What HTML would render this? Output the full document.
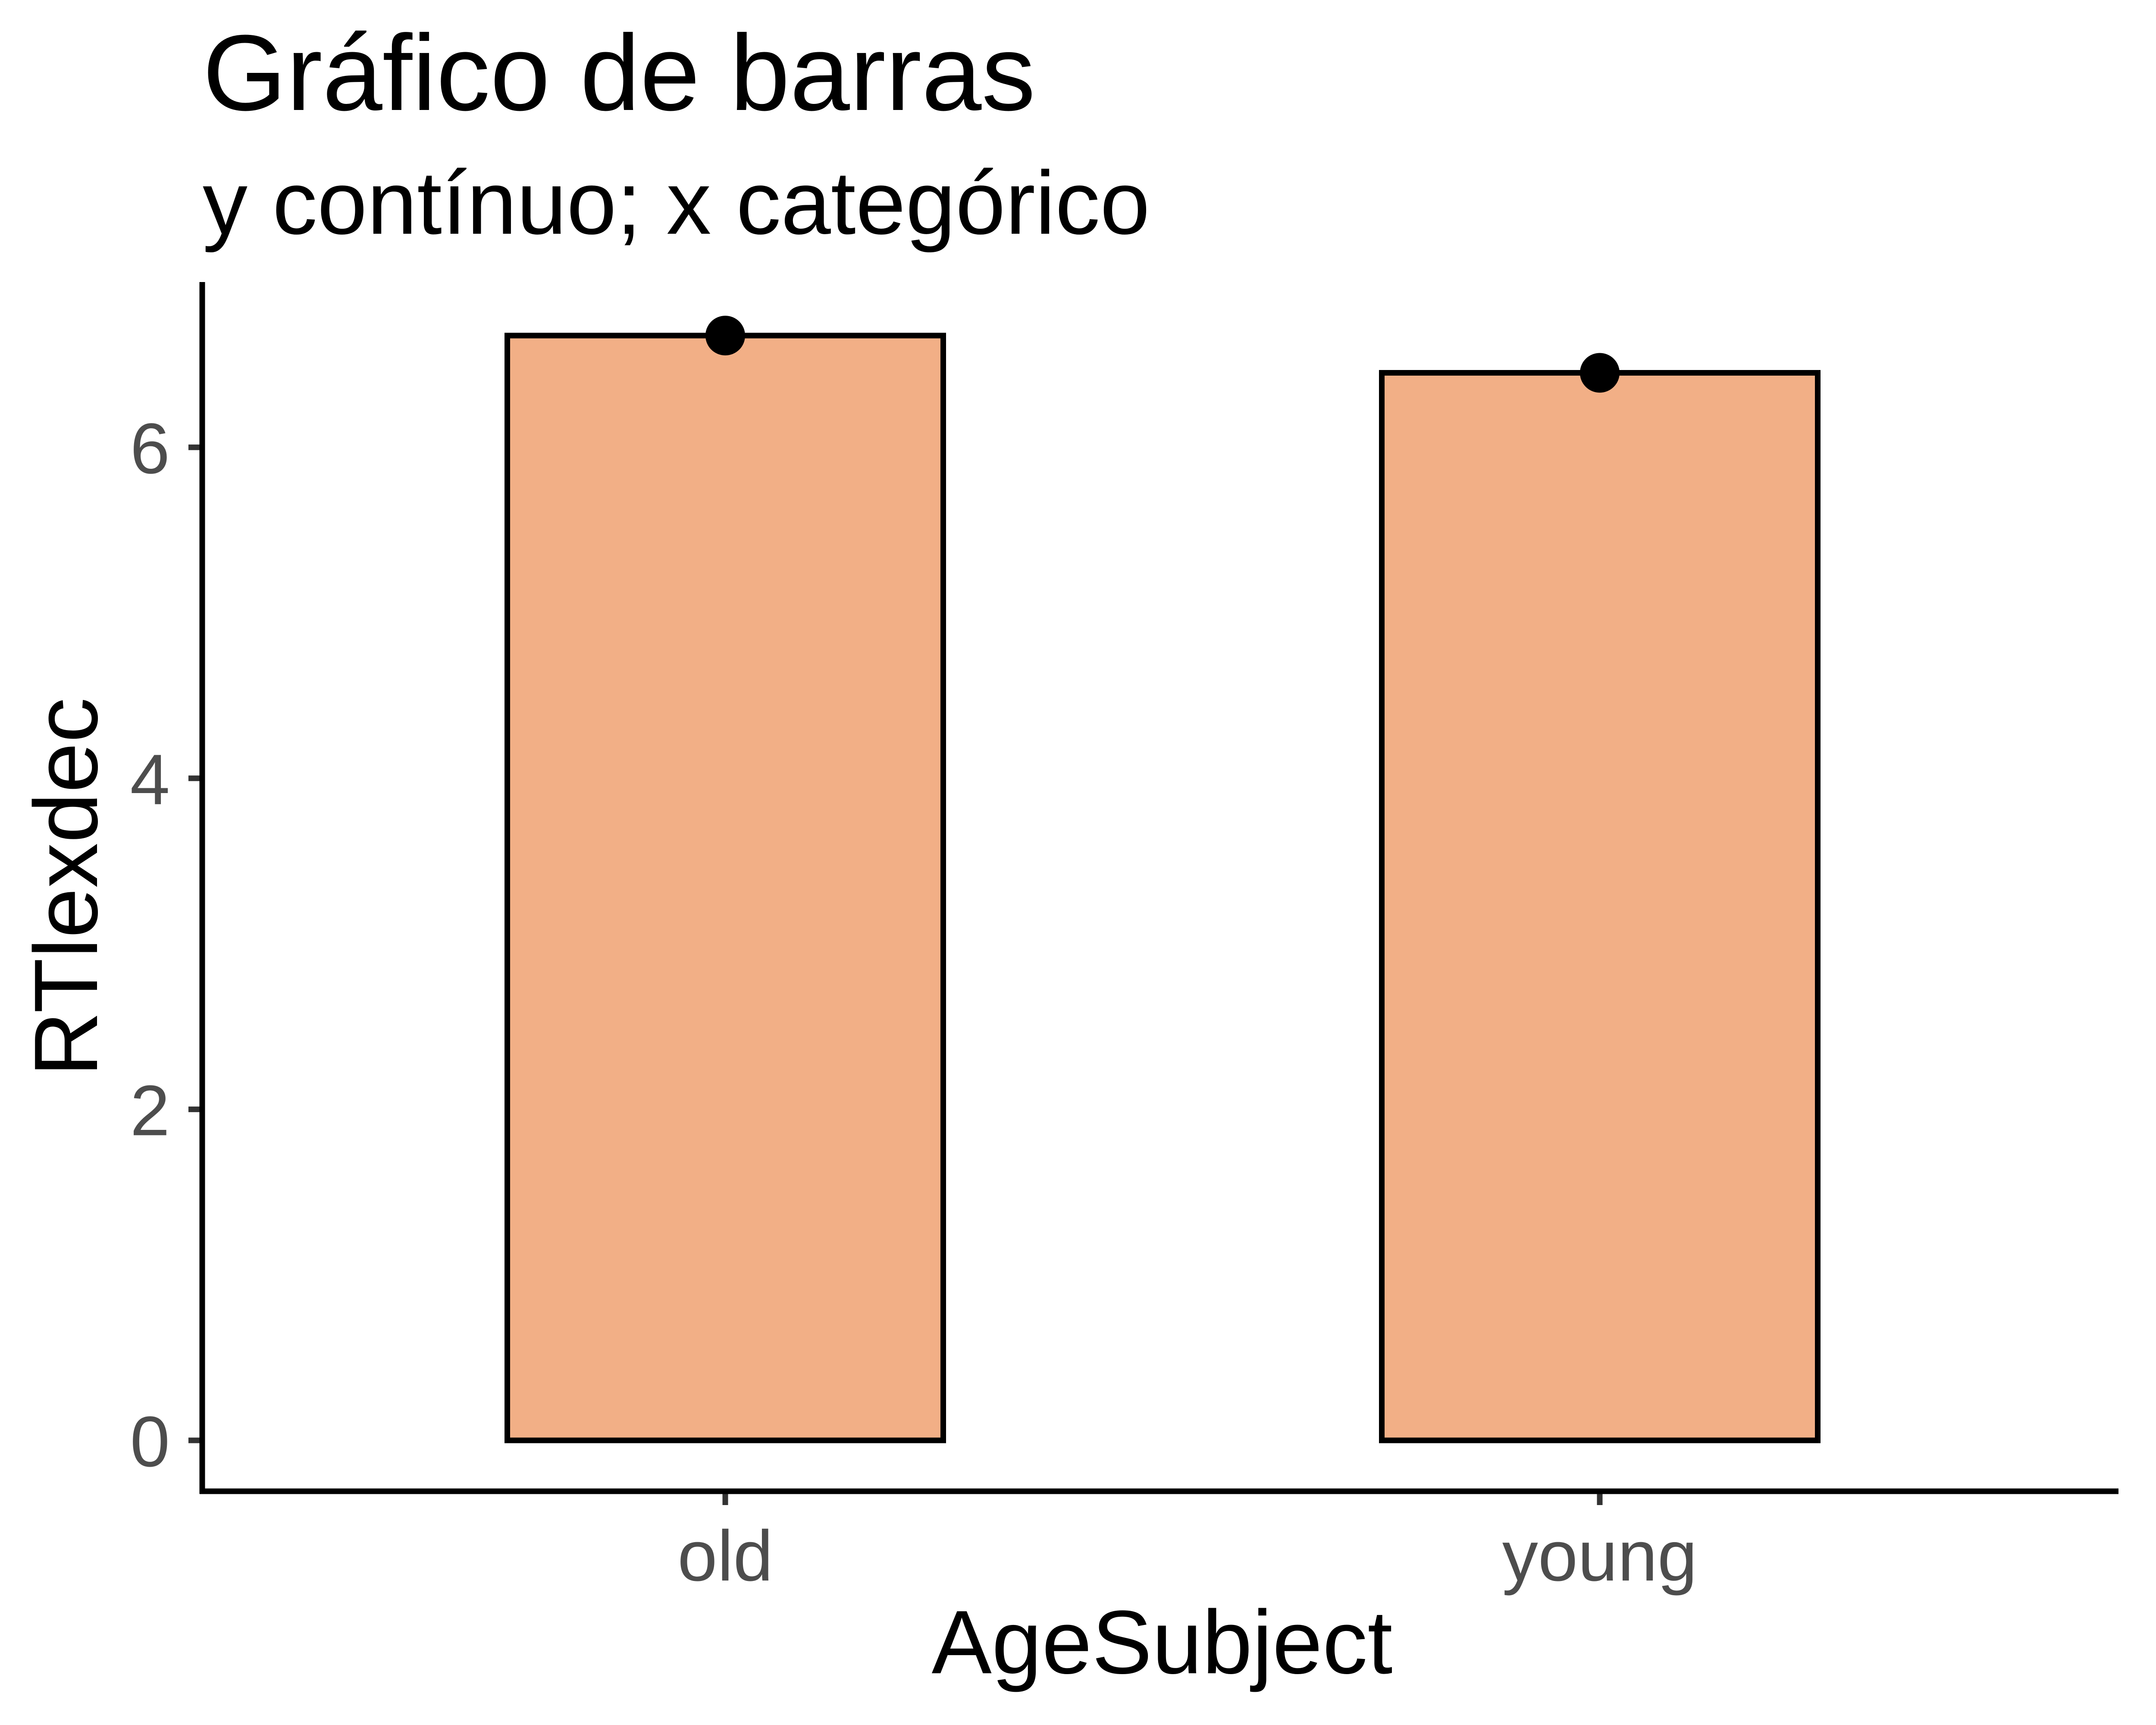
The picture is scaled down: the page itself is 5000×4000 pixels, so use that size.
<!DOCTYPE html>
<html><head><meta charset="utf-8"><style>
html,body{margin:0;padding:0;background:#fff}
svg{display:block;font-family:"Liberation Sans",Arial,sans-serif}
</style></head><body>
<svg id="chart" width="5000" height="4000" viewBox="0 0 5000 4000">
<text x="470" y="255" font-size="250" fill="#000">Gráfico de barras</text>
<text x="470" y="542" font-size="208" fill="#000">y contínuo; x categórico</text>
<g id="plot"></g>
<line x1="469" y1="654" x2="469" y2="3464" stroke="#000" stroke-width="13"/>
<line x1="463" y1="3458" x2="4913" y2="3458" stroke="#000" stroke-width="13"/>
<text x="2695" y="3880" font-size="209" text-anchor="middle" fill="#000">AgeSubject</text>
<text transform="translate(225,2057) rotate(-90)" font-size="209" text-anchor="middle" fill="#000">RTlexdec</text>
</svg>
<script>
const categories = ["old", "young"];
const values = [6.675, 6.45];
const yTicks = [0, 2, 4, 6];

const NS = "http://www.w3.org/2000/svg";
const g = document.getElementById("plot");
function yScale(v){ return 3340 - v * 383.8; }
function xScale(i){ return 1682 + i * 2028; }
const barW = 1011;
function mk(tag, attrs){ const e = document.createElementNS(NS, tag); for (const k in attrs) e.setAttribute(k, attrs[k]); g.appendChild(e); return e; }

yTicks.forEach(t => {
  const y = yScale(t);
  const tk = mk("line", {x1: 437, x2: 469, y1: y, y2: y, stroke: "#333", "stroke-width": 13});
  
  
  const lb = mk("text", {x: 394, y: y + 60, "font-size": 166, "text-anchor": "end", fill: "#4d4d4d"});
  lb.textContent = t;
  
  
});

categories.forEach((c, i) => {
  const cx = xScale(i);
  const top = yScale(values[i]);
  const bar = mk("rect", {x: cx - barW / 2, y: top, width: barW, height: yScale(0) - top, fill: "#F2AF86", stroke: "#000", "stroke-width": 13});
  
  
  const dot = mk("circle", {cx: cx, cy: top, r: 46, fill: "#000"});
  
  
  const tk = mk("line", {x1: cx, x2: cx, y1: 3458, y2: 3490, stroke: "#333", "stroke-width": 13});
  
  
  const lb = mk("text", {x: cx, y: 3665, "font-size": 166, "text-anchor": "middle", fill: "#4d4d4d"});
  lb.textContent = c;
  
  
});
</script>
</body></html>
